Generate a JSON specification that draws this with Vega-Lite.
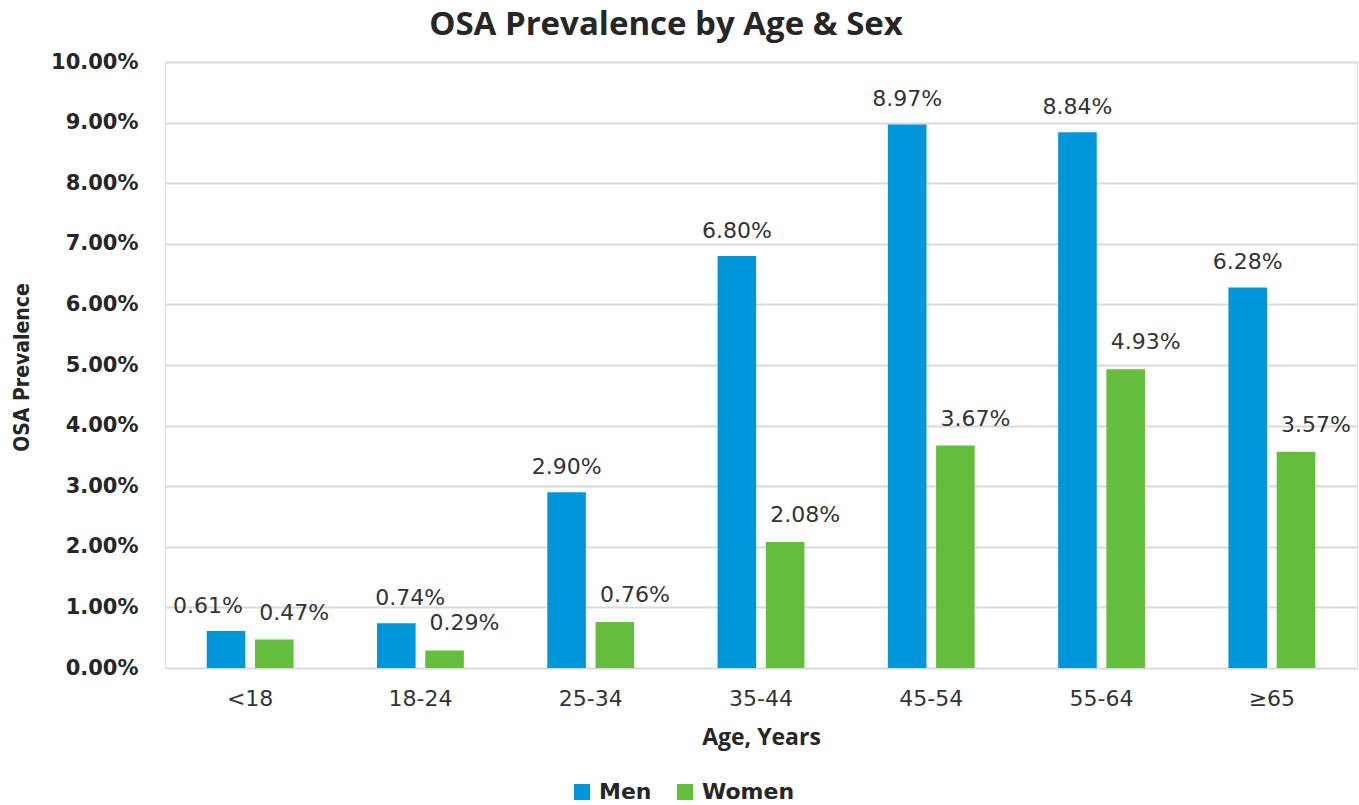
{
  "$schema": "https://vega.github.io/schema/vega-lite/v6.json",
  "autosize": {"type": "none"},
  "width": 1192,
  "height": 606,
  "padding": {"left": 165, "top": 62, "right": 2, "bottom": 137},
  "background": "white",
  "title": {
    "text": "OSA Prevalence by Age & Sex",
    "font": "Open Sans",
    "fontSize": 33,
    "fontWeight": "bold",
    "color": "#262626",
    "anchor": "middle",
    "frame": "group",
    "dx": -95,
    "offset": 9
  },
  "data": {
    "values": [
      {"age": "<18", "sex": "Men", "value": 0.0061},
      {"age": "<18", "sex": "Women", "value": 0.0047},
      {"age": "18-24", "sex": "Men", "value": 0.0074},
      {"age": "18-24", "sex": "Women", "value": 0.0029},
      {"age": "25-34", "sex": "Men", "value": 0.029},
      {"age": "25-34", "sex": "Women", "value": 0.0076},
      {"age": "35-44", "sex": "Men", "value": 0.068},
      {"age": "35-44", "sex": "Women", "value": 0.0208},
      {"age": "45-54", "sex": "Men", "value": 0.0897},
      {"age": "45-54", "sex": "Women", "value": 0.0367},
      {"age": "55-64", "sex": "Men", "value": 0.0884},
      {"age": "55-64", "sex": "Women", "value": 0.0493},
      {"age": "≥65", "sex": "Men", "value": 0.0628},
      {"age": "≥65", "sex": "Women", "value": 0.0357}
    ]
  },
  "encoding": {
    "x": {
      "field": "age",
      "type": "nominal",
      "sort": null,
      "scale": {"paddingInner": 0.49, "paddingOuter": 0.245},
      "axis": {
        "title": "Age, Years",
        "titleFont": "Open Sans",
        "titleFontSize": 23,
        "titleFontWeight": "bold",
        "titleColor": "#262626",
        "titleY": 69,
        "titleBaseline": "middle",
        "labelFont": "DejaVu Sans",
        "labelFontSize": 22,
        "labelColor": "#333333",
        "labelAngle": 0,
        "labelPadding": 20,
        "ticks": false,
        "domain": false
      }
    },
    "xOffset": {"field": "sex", "type": "nominal", "scale": {"paddingInner": 0.2}},
    "y": {
      "field": "value",
      "type": "quantitative",
      "scale": {"domain": [0, 0.1]},
      "axis": {
        "title": "OSA Prevalence",
        "titleFont": "DejaVu Sans Condensed, Open Sans Condensed, Open Sans",
        "titleFontSize": 21,
        "titleFontWeight": "bold",
        "titleColor": "#262626",
        "titleX": -143,
        "titleY": 305,
        "titleAngle": -90,
        "titleAlign": "center",
        "titleBaseline": "middle",
        "format": ".2%",
        "values": [0, 0.01, 0.02, 0.03, 0.04, 0.05, 0.06, 0.07, 0.08, 0.09, 0.1],
        "labelFont": "DejaVu Sans",
        "labelFontSize": 21,
        "labelFontWeight": "bold",
        "labelColor": "#262626",
        "labelPadding": 27,
        "ticks": false,
        "domain": false,
        "grid": true,
        "gridColor": "#d9d9d9",
        "gridWidth": 2
      }
    }
  },
  "layer": [
    {
      "mark": {"type": "bar"},
      "encoding": {
        "color": {
          "field": "sex",
          "type": "nominal",
          "scale": {"domain": ["Men", "Women"], "range": ["#0097DA", "#63BE3B"]},
          "legend": {
            "title": null,
            "orient": "none",
            "legendX": 406,
            "legendY": 719,
            "direction": "horizontal",
            "symbolType": "square",
            "symbolSize": 260,
            "symbolStrokeWidth": 0,
            "labelFont": "DejaVu Sans",
            "labelFontSize": 22,
            "labelFontWeight": "bold",
            "labelColor": "#262626",
            "labelOffset": 6,
            "columnPadding": 22
          }
        }
      }
    },
    {
      "transform": [{"filter": "datum.sex === 'Men' && datum.age !== '<18' && datum.age !== '18-24'"}],
      "mark": {"type": "text", "font": "DejaVu Sans", "fontSize": 22, "color": "#333333", "baseline": "middle", "dy": -25},
      "encoding": {"text": {"field": "value", "type": "quantitative", "format": ".2%"}}
    },
    {
      "transform": [{"filter": "datum.sex === 'Men' && datum.age === '<18'"}],
      "mark": {"type": "text", "font": "DejaVu Sans", "fontSize": 22, "color": "#333333", "baseline": "middle", "dy": -25, "dx": -18},
      "encoding": {"text": {"field": "value", "type": "quantitative", "format": ".2%"}}
    },
    {
      "transform": [{"filter": "datum.sex === 'Men' && datum.age === '18-24'"}],
      "mark": {"type": "text", "font": "DejaVu Sans", "fontSize": 22, "color": "#333333", "baseline": "middle", "dy": -25, "dx": 14},
      "encoding": {"text": {"field": "value", "type": "quantitative", "format": ".2%"}}
    },
    {
      "transform": [{"filter": "datum.sex === 'Women'"}],
      "mark": {"type": "text", "font": "DejaVu Sans", "fontSize": 22, "color": "#333333", "baseline": "middle", "dy": -27, "dx": 20},
      "encoding": {"text": {"field": "value", "type": "quantitative", "format": ".2%"}}
    }
  ]
}
